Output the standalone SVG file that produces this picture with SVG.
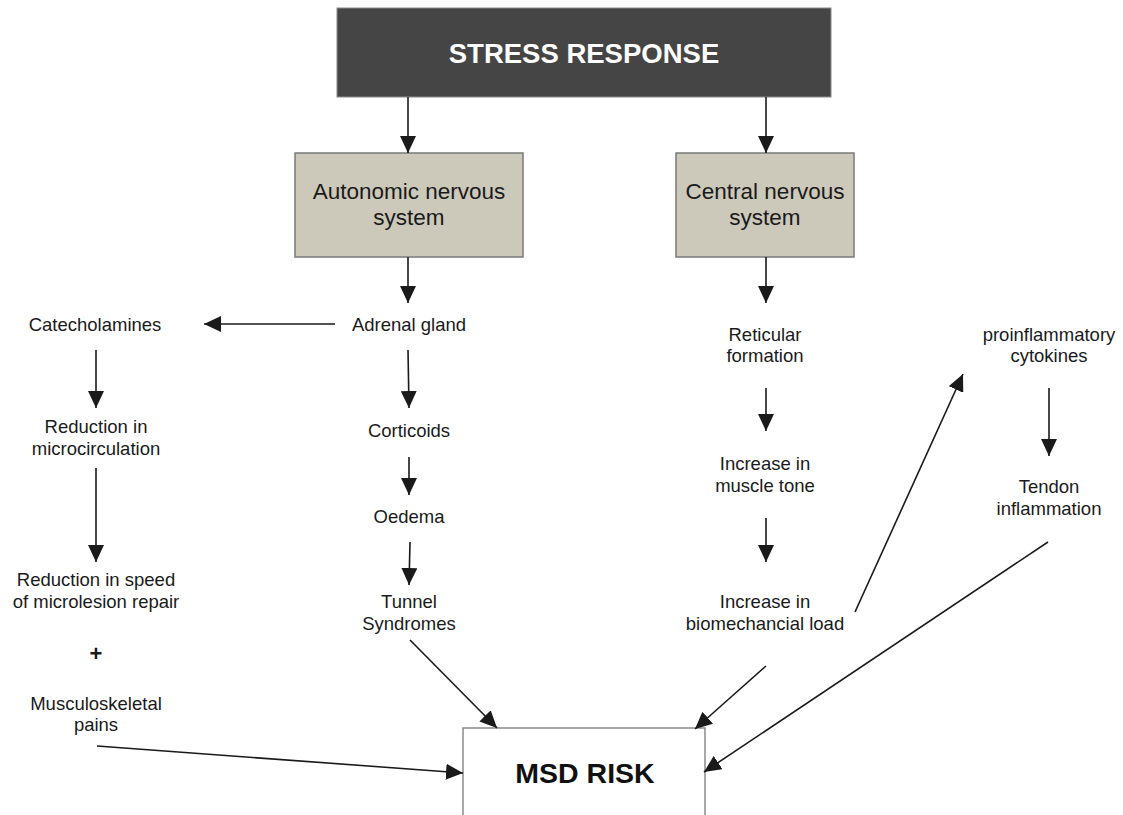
<svg xmlns="http://www.w3.org/2000/svg" width="1123" height="815" viewBox="0 0 1123 815">
  <defs>
    <marker id="arrow" markerUnits="userSpaceOnUse" markerWidth="18" markerHeight="16" viewBox="0 0 18 16" refX="17" refY="8" orient="auto">
      <path d="M0,0 L17,8 L0,16 Z" fill="#1a1a1a"/>
    </marker>
    <style>
      .lbl { font-family: "Liberation Sans", Arial, sans-serif; font-size: 18.5px; fill: #1a1a1a; text-anchor: middle; }
      .sys { font-family: "Liberation Sans", Arial, sans-serif; font-size: 22.5px; fill: #1a1a1a; text-anchor: middle; }
      .box { fill: #cdc9ba; stroke: #7a7a7a; stroke-width: 1.5; }
      .edge { stroke: #1a1a1a; stroke-width: 1.6; fill: none; marker-end: url(#arrow); }
    </style>
  </defs>
  <rect width="1123" height="815" fill="#ffffff"/>

  <!-- top box -->
  <g id="stress-response">
    <rect x="337" y="8" width="494" height="89" fill="#454545" stroke="#8a8a8a" stroke-width="1"/>
    <text x="584" y="63" font-family="'Liberation Sans', Arial, sans-serif" font-size="27.5" font-weight="bold" fill="#ffffff" text-anchor="middle">STRESS RESPONSE</text>
  </g>

  <g id="autonomic">
    <rect class="box" x="295" y="153" width="228" height="104"/>
    <text class="sys" x="409" y="199">Autonomic nervous</text>
    <text class="sys" x="409" y="225">system</text>
  </g>

  <g id="central">
    <rect class="box" x="676" y="153" width="178" height="104"/>
    <text class="sys" x="765" y="199">Central nervous</text>
    <text class="sys" x="765" y="225">system</text>
  </g>

  <g id="adrenal"><text class="lbl" x="409" y="331">Adrenal gland</text></g>
  <g id="catecholamines"><text class="lbl" x="95" y="331">Catecholamines</text></g>
  <g id="microcirculation">
    <text class="lbl" x="96" y="433">Reduction in</text>
    <text class="lbl" x="96" y="455">microcirculation</text>
  </g>
  <g id="repair">
    <text class="lbl" x="96" y="586">Reduction in speed</text>
    <text class="lbl" x="96" y="608">of microlesion repair</text>
  </g>
  <g id="plus"><text x="96" y="661" font-family="'Liberation Sans', Arial, sans-serif" font-size="22" font-weight="bold" fill="#1a1a1a" text-anchor="middle">+</text></g>
  <g id="pains">
    <text class="lbl" x="96" y="710">Musculoskeletal</text>
    <text class="lbl" x="96" y="731">pains</text>
  </g>
  <g id="corticoids"><text class="lbl" x="409" y="437">Corticoids</text></g>
  <g id="oedema"><text class="lbl" x="409" y="523">Oedema</text></g>
  <g id="tunnel">
    <text class="lbl" x="409" y="608">Tunnel</text>
    <text class="lbl" x="409" y="630">Syndromes</text>
  </g>
  <g id="reticular">
    <text class="lbl" x="765" y="341">Reticular</text>
    <text class="lbl" x="765" y="362">formation</text>
  </g>
  <g id="muscle-tone">
    <text class="lbl" x="765" y="470">Increase in</text>
    <text class="lbl" x="765" y="492">muscle tone</text>
  </g>
  <g id="biomechanical">
    <text class="lbl" x="765" y="608">Increase in</text>
    <text class="lbl" x="765" y="630">biomechancial load</text>
  </g>
  <g id="cytokines">
    <text class="lbl" x="1049" y="341">proinflammatory</text>
    <text class="lbl" x="1049" y="362">cytokines</text>
  </g>
  <g id="tendon">
    <text class="lbl" x="1049" y="493">Tendon</text>
    <text class="lbl" x="1049" y="515">inflammation</text>
  </g>

  <g id="msd-risk">
    <rect x="463" y="728" width="242" height="110" fill="#ffffff" stroke="#8a8a8a" stroke-width="1.5"/>
    <text x="585" y="783" font-family="'Liberation Sans', Arial, sans-serif" font-size="28.5" font-weight="bold" fill="#111111" text-anchor="middle">MSD RISK</text>
  </g>

  <!-- connectors -->
  <g id="connectors">
    <line class="edge" x1="408" y1="97" x2="408" y2="153"/>
    <line class="edge" x1="766" y1="97" x2="766" y2="153"/>
    <line class="edge" x1="408" y1="257" x2="408" y2="303"/>
    <line class="edge" x1="766" y1="257" x2="766" y2="303"/>
    <line class="edge" x1="335" y1="324" x2="204" y2="324"/>
    <line class="edge" x1="96" y1="350" x2="96" y2="408"/>
    <line class="edge" x1="96" y1="468" x2="96" y2="562"/>
    <line class="edge" x1="408" y1="350" x2="409" y2="408"/>
    <line class="edge" x1="409" y1="457" x2="409" y2="495"/>
    <line class="edge" x1="410" y1="542" x2="409" y2="585"/>
    <line class="edge" x1="766" y1="388" x2="766" y2="431"/>
    <line class="edge" x1="766" y1="518" x2="766" y2="562"/>
    <line class="edge" x1="1049" y1="388" x2="1049" y2="456"/>
    <line class="edge" x1="855" y1="612" x2="963" y2="374"/>
    <line class="edge" x1="410" y1="640" x2="497" y2="728"/>
    <line class="edge" x1="766" y1="666" x2="695" y2="729"/>
    <line class="edge" x1="1048" y1="542" x2="704" y2="772"/>
    <line class="edge" x1="97" y1="746" x2="463" y2="773"/>
  </g>
</svg>
